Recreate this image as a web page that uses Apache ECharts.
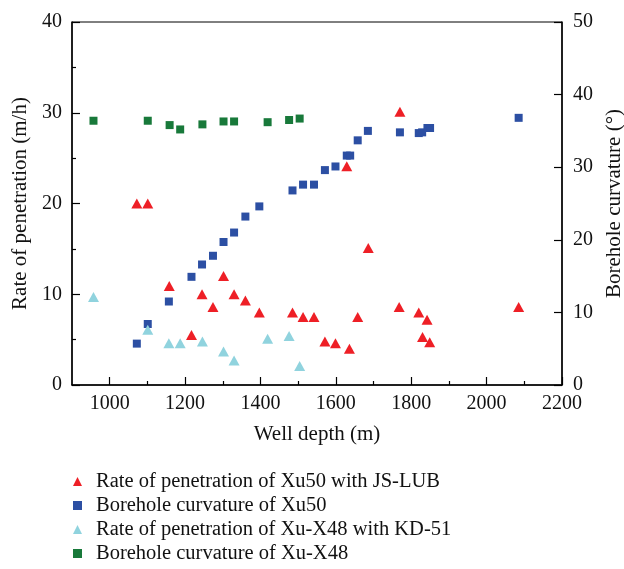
<!DOCTYPE html>
<html>
<head>
<meta charset="utf-8">
<script src="https://cdn.jsdelivr.net/npm/echarts@6/dist/echarts.min.js"></script>
<style>
  html, body { margin: 0; padding: 0; background: #fff; }
  #chart { width: 624px; height: 569px; }
</style>
</head>
<body>
<div id="chart"></div>
<script>
// Rate of penetration of Xu50 with JS-LUB  [depth m, rate m/h]
let ropXu50 = [
  [1072, 20.0], [1101, 20.0], [1158, 10.9], [1217, 5.5], [1245, 10.0], [1274, 8.6],
  [1302, 12.0], [1330, 10.0], [1360, 9.3], [1397, 8.0], [1485, 8.0], [1513, 7.5],
  [1542, 7.5], [1571, 4.8], [1599, 4.6], [1629, 24.1], [1636, 4.0], [1658, 7.5],
  [1686, 15.1], [1770, 30.1], [1768, 8.6], [1820, 8.0], [1830, 5.3], [1842, 7.2],
  [1849, 4.7], [2085, 8.6]
]
// Borehole curvature of Xu50  [depth m, curvature °]
let curvXu50 = [
  [1072, 5.7], [1101, 8.4], [1157, 11.5], [1217, 14.9], [1245, 16.6], [1274, 17.8],
  [1302, 19.7], [1330, 21.0], [1360, 23.2], [1397, 24.6], [1485, 26.8], [1513, 27.6],
  [1542, 27.6], [1571, 29.6], [1599, 30.1], [1629, 31.6], [1638, 31.6], [1658, 33.7],
  [1685, 35.0], [1770, 34.8], [1820, 34.7], [1829, 34.8], [1843, 35.4], [1850, 35.4],
  [2085, 36.8]
]
// Rate of penetration of Xu-X48 with KD-51
let ropXuX48 = [
  [957, 9.7], [1101, 6.1], [1157, 4.6], [1187, 4.6], [1246, 4.8], [1302, 3.7],
  [1330, 2.7], [1419, 5.1], [1476, 5.4], [1504, 2.1]
]
// Borehole curvature of Xu-X48
let curvXuX48 = [
  [957, 36.4], [1101, 36.4], [1159, 35.8], [1187, 35.2], [1246, 35.9], [1302, 36.3],
  [1330, 36.3], [1419, 36.2], [1476, 36.5], [1504, 36.7]
]

let seriesNames = [
  'Rate of penetration of Xu50 with JS-LUB',
  'Borehole curvature of Xu50',
  'Rate of penetration of Xu-X48 with KD-51',
  'Borehole curvature of Xu-X48'
]
let depthMajorTicks = [1000, 1200, 1400, 1600, 1800, 2000, 2200]
let depthMinorTicks = [1100, 1300, 1500, 1700, 1900, 2100]

const font = '"Liberation Serif", "DejaVu Serif", serif'
const red = '#ee1f26'
const blue = '#2c4fa3'
const cyan = '#90d3de'
const green = '#18793a'

let chart = echarts.init(document.getElementById('chart'))

let option = {
  animation: false,
  textStyle: { fontFamily: font },
  grid: {
    left: 72, right: 62, top: 22, bottom: 184,
    outerBoundsMode: 'none',
    containLabel: false,
    show: true, borderColor: '#000', borderWidth: 1
  },
  legend: {
    orient: 'vertical',
    left: 73,
    top: 471,
    height: 110,
    padding: 0,
    itemWidth: 9,
    itemHeight: 9,
    itemGap: 3,
    data: seriesNames,
    textStyle: { fontFamily: font, fontSize: 20.5, color: '#111', lineHeight: 21, padding: [0, 0, 0, 9] }
  },
  xAxis: [
    {
      type: 'value',
      min: 900, max: 2200,
      name: 'Well depth (m)',
      nameLocation: 'middle',
      nameGap: 39,
      nameTextStyle: { fontFamily: font, fontSize: 21, color: '#111' },
      splitLine: { show: false },
      axisLine: { lineStyle: { color: '#000', width: 1.5 } },
      axisTick: { inside: true, length: 8, customValues: depthMajorTicks, lineStyle: { color: '#000', width: 1.2 } },
      axisLabel: {
        customValues: depthMajorTicks, margin: 9, fontFamily: font, fontSize: 20, color: '#111',
        formatter: v => String(v)
      }
    },
    {
      type: 'value',
      min: 900, max: 2200,
      position: 'bottom',
      splitLine: { show: false },
      axisLine: { show: false },
      axisLabel: { show: false },
      axisTick: { inside: true, length: 4, customValues: depthMinorTicks, lineStyle: { color: '#000', width: 1.2 } }
    }
  ],
  yAxis: [
    {
      type: 'value',
      min: 0, max: 40, interval: 10,
      name: 'Rate of penetration (m/h)',
      nameLocation: 'middle',
      nameRotate: 90,
      nameGap: 35,
      nameTextStyle: { fontFamily: font, fontSize: 21, color: '#111' },
      splitLine: { show: false },
      axisLine: { show: true, lineStyle: { color: '#000', width: 1.5 } },
      axisTick: { show: true, inside: true, length: 8, lineStyle: { color: '#000', width: 1.2 } },
      minorTick: { show: true, splitNumber: 2, length: 4, lineStyle: { color: '#000', width: 1.2 } },
      axisLabel: { margin: 10, fontFamily: font, fontSize: 20, color: '#111' }
    },
    {
      type: 'value',
      min: 0, max: 50, interval: 10,
      position: 'right',
      name: 'Borehole curvature (°)',
      nameLocation: 'middle',
      nameRotate: 90,
      nameGap: 33,
      nameTextStyle: { fontFamily: font, fontSize: 21, color: '#111' },
      splitLine: { show: false },
      axisLine: { show: true, lineStyle: { color: '#000', width: 1.5 } },
      axisTick: { show: true, inside: true, length: 8, lineStyle: { color: '#000', width: 1.2 } },
      axisLabel: { margin: 11, fontFamily: font, fontSize: 20, color: '#111' }
    }
  ],
  series: [
    {
      name: seriesNames[0], type: 'scatter', yAxisIndex: 0,
      symbol: 'triangle', symbolSize: [11, 10],
      itemStyle: { color: red, opacity: 1 },
      data: ropXu50
    },
    {
      name: seriesNames[1], type: 'scatter', yAxisIndex: 1,
      symbol: 'rect', symbolSize: 8,
      itemStyle: { color: blue, opacity: 1 },
      data: curvXu50
    },
    {
      name: seriesNames[2], type: 'scatter', yAxisIndex: 0,
      symbol: 'triangle', symbolSize: [11, 10],
      itemStyle: { color: cyan, opacity: 1 },
      data: ropXuX48
    },
    {
      name: seriesNames[3], type: 'scatter', yAxisIndex: 1,
      symbol: 'rect', symbolSize: 8,
      itemStyle: { color: green, opacity: 1 },
      data: curvXuX48
    }
  ]
}

chart.setOption(option)
</script>
</body>
</html>
